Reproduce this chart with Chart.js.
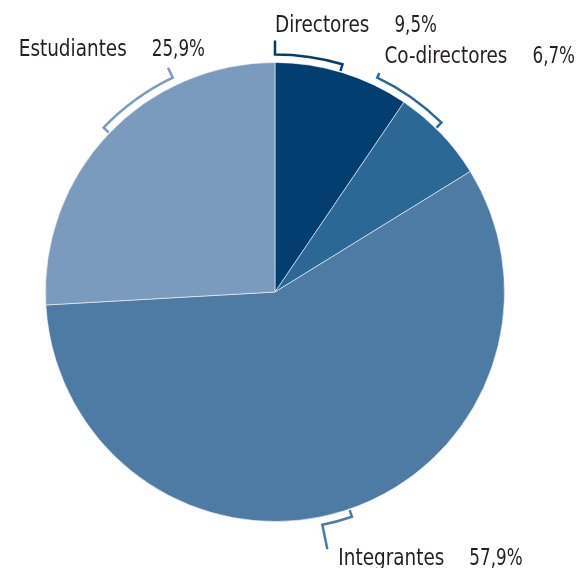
<!DOCTYPE html>
<html lang="es">
<head>
<meta charset="utf-8">
<script src="https://cdn.jsdelivr.net/npm/chart.js@4/dist/chart.umd.min.js"></script>
<style>
	html, body { margin: 0; padding: 0; background: #fff; }
	#chart { display: block; }
</style>
</head>
<body>
<canvas id="chart" width="581" height="568"></canvas>
<script>
// data
const categories = ["Directores", "Co-directores", "Integrantes", "Estudiantes"];
const shares = [9.5, 6.7, 57.9, 25.9];

// look
const sliceColors = ["#023e6f", "#2b6896", "#4e7ba3", "#7a9bbd"];
const labelFont = "23px 'Liberation Sans Narrow', 'DejaVu Sans Condensed', sans-serif";
const nameSqueeze = 0.89; // the original face is narrower than what we have
const valueSqueeze = 0.81; // its digits even more so

// bracket layout: degrees clockwise from the top, leader end first
const brackets = [
	{ from: 0, to: 16.5, leader: 14, dx: 0, dy: -9, align: "left" },
	{ from: 25.5, to: 44.5, leader: 5, dx: 5, dy: -10, align: "left" },
	{ from: 168.5, to: 161.1, leader: 25, dx: 11, dy: 16, align: "left" },
	{ from: 334.5, to: 313.8, leader: 11, dx: 37, dy: -12, align: "right" }
];

const fmt = (v) => v.toFixed(1).replace(".", ",") + "%";

/**
 * Draws the curly brackets and the labels around the pie.
 */
const bracketPlugin = {
	id: "brackets",
	afterDatasetsDraw(chart) {
		const ctx = chart.ctx;
		const meta = chart.getDatasetMeta(0);
		const arc0 = meta.data[0];
		const cx = arc0.x, cy = arc0.y, r = arc0.outerRadius;
		const rad = (deg) => (deg - 90) * Math.PI / 180;
		const pt = (deg, rr) => [cx + rr * Math.cos(rad(deg)), cy + rr * Math.sin(rad(deg))];
		const rb = r + 8;

		brackets.forEach((b, i) => {
			ctx.save();
			ctx.strokeStyle = sliceColors[i];
			ctx.lineWidth = 2.5;
			ctx.lineJoin = "miter";
			ctx.beginPath();
			const tip = pt(b.from, rb + b.leader);
			ctx.moveTo(tip[0], tip[1]);
			const s = pt(b.from, rb);
			ctx.lineTo(s[0], s[1]);
			ctx.arc(cx, cy, rb, rad(b.from), rad(b.to), b.to < b.from);
			const e = pt(b.to, r + 1);
			ctx.lineTo(e[0], e[1]);
			ctx.stroke();

			// label
			ctx.font = labelFont;
			ctx.fillStyle = "#231f20";
			ctx.textBaseline = "alphabetic";
			ctx.textAlign = "left";
			const name = categories[i];
			const value = fmt(shares[i]);
			const gap = 25;
			const nameW = ctx.measureText(name).width * nameSqueeze;
			const valueW = ctx.measureText(value).width * valueSqueeze;
			let x = tip[0] + b.dx;
			const y = tip[1] + b.dy;
			if (b.align === "right") x -= nameW + gap + valueW;
			[[name, x, nameSqueeze], [value, x + nameW + gap, valueSqueeze]].forEach(([t, tx, sq]) => {
				ctx.save();
				ctx.translate(tx, y);
				ctx.scale(sq, 1);
				ctx.fillText(t, 0, 0);
				ctx.restore();
			});
			ctx.restore();
		});
	}
};

new Chart(document.getElementById("chart"), {
	type: "pie",
	data: {
		labels: categories,
		datasets: [{
			data: shares,
			backgroundColor: sliceColors,
			borderColor: "rgba(255,255,255,0.55)",
			borderWidth: 1
		}]
	},
	options: {
		responsive: false,
		animation: false,
		layout: { padding: { left: 45, right: 76, top: 62, bottom: 46 } },
		plugins: {
			legend: { display: false },
			tooltip: { enabled: false }
		}
	},
	plugins: [bracketPlugin]
});
</script>
</body>
</html>
